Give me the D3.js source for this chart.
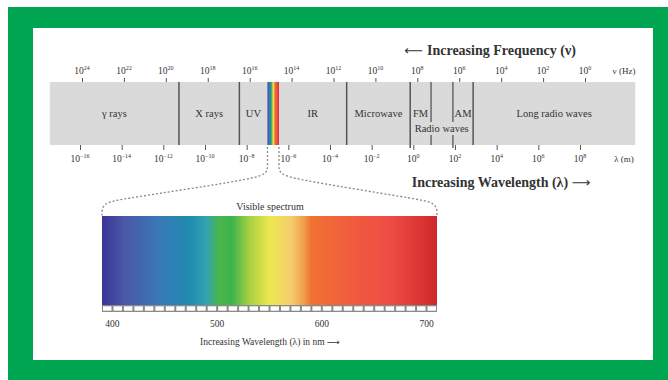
<!DOCTYPE html>
<html>
<head>
<meta charset="utf-8">
<script src="https://cdn.jsdelivr.net/npm/d3@7"></script>
<style>
  html, body { margin: 0; padding: 0; background: #fff; }
  svg { display: block; }
  text { font-family: "Liberation Serif", "DejaVu Serif", serif; fill: #333; }
  .arrow { font-family: "DejaVu Sans", sans-serif; }
</style>
</head>
<body>
<div class="container"></div>
<script>
// frequency ticks (exponent of 10, Hz) and wavelength ticks (exponent of 10, m)
const freqExp = [24, 22, 20, 18, 16, 14, 12, 10, 8, 6, 4, 2, 0];
const waveExp = [-16, -14, -12, -10, -8, -6, -4, -2, 0, 2, 4, 6, 8];

// bands along the wavelength axis (log10 of metres)
const bandNames = ['γ rays', 'X rays', 'UV', 'IR', 'Microwave', 'FM', 'AM', 'Long radio waves'];
const bandFrom  = [-17.45, -11.25, -8.35, -6.45, -3.2, -0.15, 1.9, 2.87];
const bandTo    = [-11.25, -8.35, -7.0, -3.2, -0.15, 0.85, 2.87, 10.65];
const dividers  = [-11.25, -8.35, -3.2, -0.15, 2.87];
const radioInner = [0.85, 1.9];
const visibleBand = [-7.0, -6.45];

// visible spectrum (nm)
const nmTicks = [400, 500, 600, 700];
const spectrumNm = [390, 410, 443, 474, 490, 502, 514, 531, 550, 570, 582, 590, 634, 665, 710];
const spectrumColors = ['#3b3597', '#4a56a6', '#3a78b6', '#1f8bb0', '#33a3b0', '#49b54a', '#3cb44a',
  '#a9d042', '#ece74f', '#f4cf6c', '#f1a24e', '#f07232', '#f0593f', '#ee4d45', '#d0282a'];

const width = 668, height = 380;

const svg = d3.select('.container')
    .append('svg')
    .attr('width', width)
    .attr('height', height);

// frame
svg.append('rect').attr('x', 8).attr('y', 7).attr('width', 660).attr('height', 373).attr('fill', '#00a551');
svg.append('rect').attr('x', 33).attr('y', 28).attr('width', 620).attr('height', 332).attr('fill', '#fff');

const xFreq = d3.scaleLog().domain([1e24, 1]).range([82, 585]);
const xWave = d3.scaleLog().domain([1e-16, 1e8]).range([80, 580]);
const xw = e => xWave(Math.pow(10, e));

const bandTop = 82, bandBottom = 145;

const defs = svg.append('defs');
const grad = defs.append('linearGradient').attr('id', 'spec').attr('x1', '0%').attr('x2', '100%');
grad.selectAll('stop')
    .data(spectrumNm)
    .join('stop')
    .attr('offset', d => ((d - spectrumNm[0]) / (spectrumNm[spectrumNm.length - 1] - spectrumNm[0]) * 100) + '%')
    .attr('stop-color', (d, i) => spectrumColors[i]);

// gray band
svg.append('rect')
    .attr('x', xw(bandFrom[0]))
    .attr('y', bandTop)
    .attr('width', xw(bandTo[bandTo.length - 1]) - xw(bandFrom[0]))
    .attr('height', bandBottom - bandTop)
    .attr('fill', '#dadada');

// visible stripe
svg.append('rect')
    .attr('x', xw(visibleBand[0]))
    .attr('y', bandTop)
    .attr('width', xw(visibleBand[1]) - xw(visibleBand[0]))
    .attr('height', bandBottom - bandTop)
    .attr('fill', 'url(#spec)');

// dividers
svg.append('g')
    .selectAll('line')
    .data(dividers)
    .join('line')
    .attr('x1', d => xw(d)).attr('x2', d => xw(d))
    .attr('y1', bandTop).attr('y2', (d, i) => (i === 3 ? bandBottom + 3 : bandBottom))
    .attr('stroke', '#555')
    .attr('stroke-width', 1.5);

svg.append('g')
    .selectAll('g')
    .data(radioInner)
    .join('g')
    .each(function (d, i) {
        const g = d3.select(this);
        g.append('line').attr('x1', xw(d)).attr('x2', xw(d)).attr('y1', bandTop).attr('y2', 122)
            .attr('stroke', '#555').attr('stroke-width', 1.3);
        g.append('line').attr('x1', xw(d)).attr('x2', xw(d)).attr('y1', 135).attr('y2', i === 1 ? bandBottom + 3 : bandBottom)
            .attr('stroke', '#555').attr('stroke-width', 1.3);
    });

// band labels
svg.append('g')
    .selectAll('text')
    .data(bandNames)
    .join('text')
    .attr('x', (d, i) => (xw(bandFrom[i]) + xw(bandTo[i])) / 2)
    .attr('y', 117)
    .attr('text-anchor', 'middle')
    .attr('font-size', 10.5)
    .text(d => d);

svg.append('text')
    .attr('x', (xw(bandFrom[5]) + xw(bandTo[6])) / 2)
    .attr('y', 132)
    .attr('text-anchor', 'middle')
    .attr('font-size', 10.5)
    .text('Radio waves');

// axes
const topAxis = d3.axisTop(xFreq)
    .tickValues(freqExp.map(e => Math.pow(10, e)))
    .tickSize(4)
    .tickFormat('');
const gTop = svg.append('g').attr('transform', `translate(0,${bandTop})`).call(topAxis);
gTop.select('.domain').remove();
gTop.selectAll('.tick line').attr('stroke', '#555');

const botAxis = d3.axisBottom(xWave)
    .tickValues(waveExp.map(e => Math.pow(10, e)))
    .tickSize(5)
    .tickFormat('');
const gBot = svg.append('g').attr('transform', `translate(0,${bandBottom})`).call(botAxis);
gBot.select('.domain').remove();
gBot.selectAll('.tick line').attr('stroke', '#555');

function powLabel(sel, exps, scale, y) {
    const t = sel.selectAll('text.pw')
        .data(exps)
        .join('text')
        .attr('class', 'pw')
        .attr('x', d => scale(Math.pow(10, d)))
        .attr('y', y)
        .attr('text-anchor', 'middle')
        .attr('font-size', 9.5);
    t.append('tspan').text('10');
    t.append('tspan').attr('dy', -4).attr('font-size', 6).text(d => String(d).replace('-', '−'));
}
powLabel(svg.append('g'), freqExp, xFreq, 74);
powLabel(svg.append('g'), waveExp, xWave, 162);

svg.append('text').attr('x', 624).attr('y', 74).attr('text-anchor', 'middle').attr('font-size', 9).text('ν (Hz)');
svg.append('text').attr('x', 624).attr('y', 162).attr('text-anchor', 'middle').attr('font-size', 9).text('λ (m)');

const t1 = svg.append('text').attr('x', 490).attr('y', 55).attr('text-anchor', 'middle')
    .attr('font-size', 14).attr('font-weight', 600).attr('fill', '#222');
t1.append('tspan').attr('class', 'arrow').attr('font-size', 13).attr('font-weight', 400).text('⟵ ');
t1.append('tspan').text('Increasing Frequency (ν)');
const t2 = svg.append('text').attr('x', 501).attr('y', 187).attr('text-anchor', 'middle')
    .attr('font-size', 14).attr('font-weight', 600).attr('fill', '#222');
t2.append('tspan').text('Increasing Wavelength (λ) ');
t2.append('tspan').attr('class', 'arrow').attr('font-size', 13).attr('font-weight', 400).text('⟶');

// visible spectrum
const xNm = d3.scaleLinear().domain([390, 710]).range([102, 437]);
const specTop = 216, specBottom = 305;

svg.append('rect')
    .attr('x', xNm(390)).attr('y', specTop)
    .attr('width', xNm(710) - xNm(390)).attr('height', specBottom - specTop)
    .attr('fill', 'url(#spec)');

// ruler
svg.append('rect')
    .attr('x', xNm(390)).attr('y', specBottom)
    .attr('width', xNm(710) - xNm(390)).attr('height', 7)
    .attr('fill', '#8a8a8a');
svg.append('g')
    .selectAll('rect')
    .data(d3.range(390, 710, 10))
    .join('rect')
    .attr('x', d => xNm(d) + 1)
    .attr('y', specBottom + 1.3)
    .attr('width', d => xNm(d + 10) - xNm(d) - 2)
    .attr('height', 4.4)
    .attr('fill', '#fff');

svg.append('g')
    .selectAll('text')
    .data(nmTicks)
    .join('text')
    .attr('x', d => xNm(d))
    .attr('y', 327)
    .attr('text-anchor', 'middle')
    .attr('font-size', 9.5)
    .text(d => d);

svg.append('text').attr('x', 270).attr('y', 210).attr('text-anchor', 'middle').attr('font-size', 10).text('Visible spectrum');
const t3 = svg.append('text').attr('x', 270).attr('y', 345).attr('text-anchor', 'middle').attr('font-size', 9.5);
t3.append('tspan').text('Increasing Wavelength (λ) in nm ');
t3.append('tspan').attr('class', 'arrow').attr('font-size', 9).text('⟶');

// dashed connectors
const line = d3.line().curve(d3.curveBasis);
const vx0 = xw(visibleBand[0]), vx1 = xw(visibleBand[1]);
svg.append('path')
    .attr('d', line([[vx0, bandBottom + 2], [vx0, 166], [vx0, 174], [vx0 - 20, 180], [xNm(390) + 20, 199], [xNm(390), 203], [xNm(390), specTop]]))
    .attr('fill', 'none').attr('stroke', '#888').attr('stroke-width', 1.3).attr('stroke-dasharray', '2,2');
svg.append('path')
    .attr('d', line([[vx1, bandBottom + 2], [vx1, 166], [vx1, 174], [vx1 + 20, 180], [xNm(710) - 20, 199], [xNm(710), 203], [xNm(710), specTop]]))
    .attr('fill', 'none').attr('stroke', '#888').attr('stroke-width', 1.3).attr('stroke-dasharray', '2,2');
</script>
</body>
</html>
